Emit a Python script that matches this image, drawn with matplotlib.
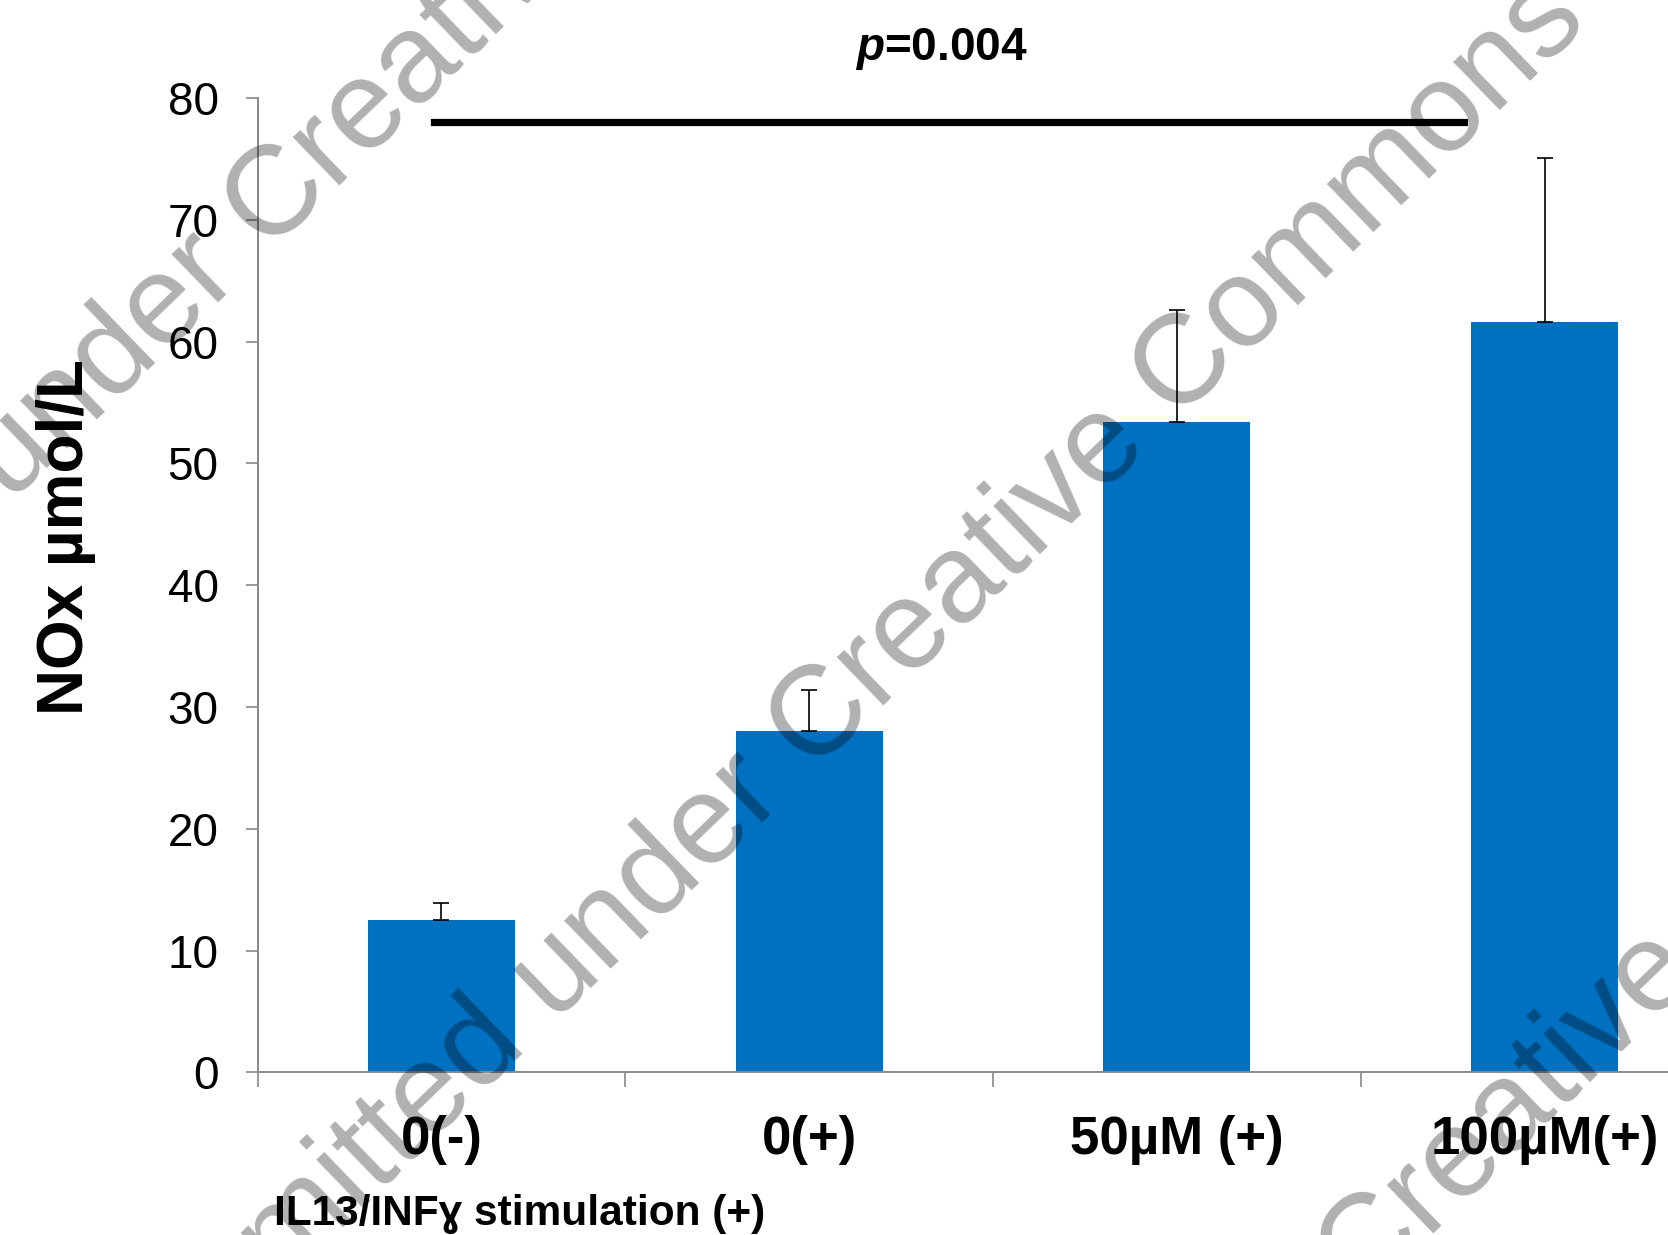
import matplotlib
matplotlib.use('Agg')
import matplotlib.pyplot as plt
import numpy as np

plt.rcParams['font.family'] = ['Liberation Sans', 'DejaVu Sans']
plt.rcParams['mathtext.fontset'] = 'custom'
plt.rcParams['mathtext.it'] = 'Liberation Sans:italic:bold'
plt.rcParams['mathtext.rm'] = 'Liberation Sans:bold'

# dados
categories = ['0(-)', '0(+)', '50µM (+)', '100µM(+)']
nox_values = [12.5, 28.0, 53.4, 61.6]
err_upper = [1.4, 3.4, 9.2, 13.5]
y_ticks = [0, 10, 20, 30, 40, 50, 60, 70, 80]
sig_x = [-0.02, 2.78]
sig_y = 78
p_label = r'$p$=0.004'
stim_label = 'IL13/INFɣ stimulation (+)'
watermark = 'Permitted under Creative Commons'

W, H = 1668, 1235
fig = plt.figure(figsize=(W / 100, H / 100), dpi=100)
ax = fig.add_axes([257.5 / W, 162.7 / H, 1471 / W, 974.4 / H])

x = np.arange(len(categories))
ax.bar(x, nox_values, width=0.4, color='#0070C0', zorder=2)
ax.errorbar(x, nox_values, yerr=[np.zeros(len(err_upper)), err_upper],
            fmt='none', ecolor='black', elinewidth=1.2, capsize=6, capthick=1.2, zorder=3)

ax.set_xlim(-0.5, 3.5)
ax.set_ylim(0, 80)
ax.set_yticks(y_ticks)
ax.tick_params(axis='y', direction='out', length=9, width=1.2, color='#888888',
               labelsize=33, pad=19)
ax.set_xticks(x)
ax.set_xticklabels(categories, fontsize=38, fontweight='bold')
ax.set_xticks(np.arange(-0.5, 4.0, 1.0), minor=True)
ax.tick_params(axis='x', which='major', length=0, pad=31)
ax.tick_params(axis='x', which='minor', direction='out', length=11, width=1.2, color='#888888')

for s in ['top', 'right']:
    ax.spines[s].set_visible(False)
for s in ['left', 'bottom']:
    ax.spines[s].set_color('#888888')
    ax.spines[s].set_linewidth(1.4)

# linha de significância
ax.plot(sig_x, [sig_y, sig_y], color='black', lw=5.2, clip_on=False, zorder=4)
ax.text(1.36, 84.0, p_label, fontsize=33, fontweight='bold', ha='center', va='center')

fig.text(66 / W, 1 - 537 / H, 'NOx µmol/L', fontsize=46, fontweight='bold',
         rotation=90, ha='center', va='center')
fig.text(274 / W, 1 - 1214 / H, stim_label, fontsize=30.5, fontweight='bold',
         ha='left', va='center')

# marca d'água
for cx, cy in [(842, 700), (298, 180), (1392, 1228)]:
    fig.text(cx / W, 1 - cy / H, watermark, fontsize=91, color='black', alpha=0.31,
             rotation=44, ha='center', va='center', rotation_mode='anchor', zorder=10)

plt.savefig('out.png', dpi=100)
